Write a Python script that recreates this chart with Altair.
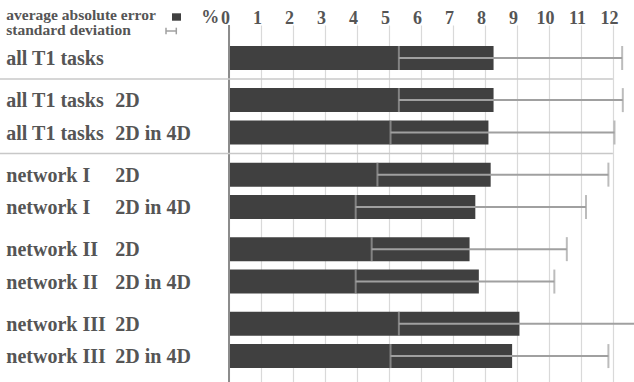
import altair as alt
import pandas as pd

# Rows of the chart, top to bottom
task_names = ["all T1 tasks", "all T1 tasks", "all T1 tasks",
              "network I", "network I", "network II", "network II",
              "network III", "network III"]
conditions = ["", "2D", "2D in 4D", "2D", "2D in 4D", "2D", "2D in 4D", "2D", "2D in 4D"]
group_ids = [0, 1, 1, 2, 2, 3, 3, 4, 4]

# Average absolute error (%) and the ends of the standard-deviation whiskers
mean_error = [8.27, 8.27, 8.11, 8.18, 7.70, 7.52, 7.81, 9.08, 8.85]
sd_low = [5.31, 5.31, 5.05, 4.64, 3.96, 4.46, 3.96, 5.31, 5.05]
sd_high = [12.29, 12.31, 12.05, 11.86, 11.16, 10.56, 10.17, 12.90, 11.86]

x_ticks = list(range(0, 13))
legend_labels = ["average absolute error", "standard deviation"]
unit_label = "%"

# groups are separated by a little extra space
pos = [i + 0.3 * g for i, g in enumerate(group_ids)]
df = pd.DataFrame({
    "name": task_names, "cond": conditions, "pos": pos,
    "mean": mean_error, "lo": sd_low, "hi": sd_high,
})
sep_df = pd.DataFrame({
    "pos": [(pos[i] + pos[i + 1]) / 2 for i in (0, 2)],
    "start": [x_ticks[0]] * 2,
    "end": [x_ticks[-1]] * 2,
})

FONT = "Liberation Serif"
TEXT = "#555555"
BAR = "#404040"
WHISKER = "#a0a0a0"
SEP = "#c8c8c8"

x_scale = alt.Scale(domain=[0, 12.66], nice=False, zero=True)
y_scale = alt.Scale(domain=[-0.864, 9.846], reverse=True, nice=False, zero=False)

x_axis = alt.Axis(
    orient="top", values=x_ticks, grid=True, gridColor="#d9d9d9",
    gridWidth=1.2, ticks=False, tickSize=0, domain=False, title=None,
    labelFont=FONT, labelFontWeight="bold", labelFontSize=18, labelColor=TEXT,
    labelPadding=2, labelBaseline="alphabetic", labelOffset=-4,
    labelFlush=False, labelOverlap=False,
)


def xq(field):
    return alt.X(field, scale=x_scale, axis=x_axis)


def yq(field):
    return alt.Y(field, scale=y_scale, axis=None)


base = alt.Chart(df)

bars = base.mark_bar(orient="horizontal", size=24, color=BAR).encode(
    x=xq("mean:Q"), x2=alt.datum(0), y=yq("pos:Q"),
)

whisker = base.mark_rule(color=WHISKER, strokeWidth=2, clip=True).encode(
    x=xq("lo:Q"), x2="hi:Q", y=yq("pos:Q"),
)

caps = base.transform_fold(["lo", "hi"], as_=["end", "val"]).mark_tick(
    orient="vertical", size=24, thickness=2, color=WHISKER, clip=True
).encode(x=xq("val:Q"), y=yq("pos:Q"))

zero_line = alt.Chart(sep_df.head(1)).mark_rule(
    color="#8c8c8c", strokeWidth=2
).encode(x=xq("start:Q"))

# separators: the part under the row labels, then the part across the plot
sep_left = alt.Chart(sep_df).mark_rule(color=SEP, strokeWidth=1.5).encode(
    x=alt.value(-229), x2=alt.value(0), y=yq("pos:Q"),
)
sep_right = alt.Chart(sep_df).mark_rule(color=SEP, strokeWidth=1.5).encode(
    x=xq("start:Q"), x2="end:Q", y=yq("pos:Q"),
)

label_style = dict(align="left", baseline="middle", font=FONT, fontWeight="bold",
                   fontSize=20, color=TEXT, dy=1)
name_text = base.mark_text(**label_style).encode(
    x=alt.value(-222.7), y=yq("pos:Q"), text="name:N")
cond_text = base.mark_text(**label_style).encode(
    x=alt.value(-113.7), y=yq("pos:Q"), text="cond:N")

# legend in the top-left corner
legend_style = dict(align="left", baseline="alphabetic", font=FONT, fontWeight="bold",
                    fontSize=15.5, color=TEXT)
leg_df = pd.DataFrame({"t": legend_labels})
leg_text1 = alt.Chart(leg_df).transform_filter(alt.datum.t == legend_labels[0]).mark_text(
    **legend_style).encode(x=alt.value(-222.7), y=alt.value(-5.5), text="t:N")
leg_text2 = alt.Chart(leg_df).transform_filter(alt.datum.t == legend_labels[1]).mark_text(
    **legend_style).encode(x=alt.value(-222.7), y=alt.value(9.8), text="t:N")
leg_box = alt.Chart(leg_df).transform_filter(alt.datum.t == legend_labels[0]).mark_rect(
    color=BAR).encode(x=alt.value(-57), x2=alt.value(-48), y=alt.value(-11.7), y2=alt.value(-4.3))
leg_line = alt.Chart(leg_df).transform_filter(alt.datum.t == legend_labels[1]).mark_rule(
    color=WHISKER, strokeWidth=1.5).encode(x=alt.value(-63), x2=alt.value(-52.7), y=alt.value(6))
leg_cap1 = alt.Chart(leg_df).transform_filter(alt.datum.t == legend_labels[1]).mark_rule(
    color=WHISKER, strokeWidth=1.5).encode(x=alt.value(-63), y=alt.value(2.7), y2=alt.value(9.3))
leg_cap2 = alt.Chart(leg_df).transform_filter(alt.datum.t == legend_labels[1]).mark_rule(
    color=WHISKER, strokeWidth=1.5).encode(x=alt.value(-52.7), y=alt.value(2.7), y2=alt.value(9.3))

unit_text = alt.Chart(pd.DataFrame({"u": [unit_label]})).mark_text(
    align="right", baseline="alphabetic", font=FONT, fontWeight="bold",
    fontSize=18, color=TEXT
).encode(x=alt.value(-9.7), y=alt.value(-1.7), text="u:N")

chart = alt.layer(
    bars, zero_line, whisker, caps, sep_left, sep_right, name_text, cond_text,
    leg_text1, leg_text2, leg_box, leg_line, leg_cap1, leg_cap2, unit_text,
).properties(
    width=405, height=357,
    autosize=alt.AutoSizeParams(type="none"),
    padding={"left": 229, "top": 25, "right": 0, "bottom": 0},
    background="white",
).configure_view(stroke=None)

chart.save("out.html", embed_options={"renderer": "svg", "actions": False})
